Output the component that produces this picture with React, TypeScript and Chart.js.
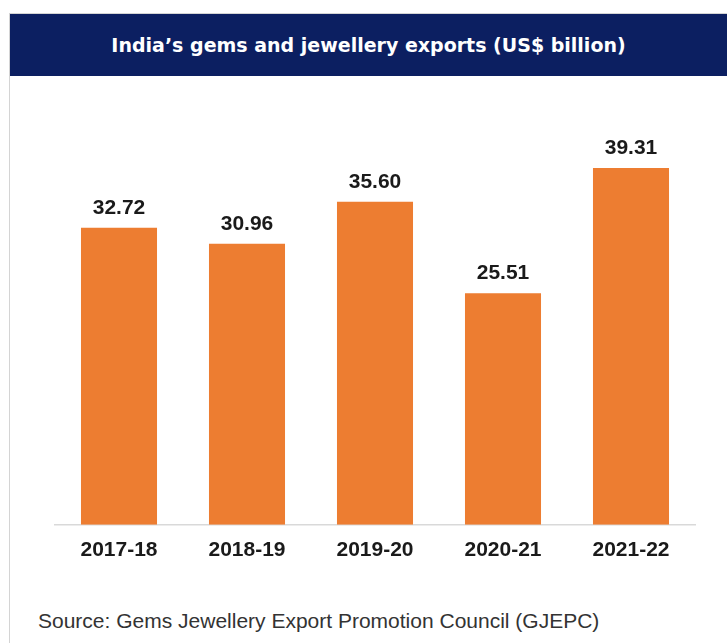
import React, { useEffect, useRef } from "react";
import { Chart, registerables } from "chart.js";

Chart.register(...registerables);

const categories: string[] = ["2017-18", "2018-19", "2019-20", "2020-21", "2021-22"];
const exportValues: number[] = [32.72, 30.96, 35.6, 25.51, 39.31];
const valueLabels: string[] = ["32.72", "30.96", "35.60", "25.51", "39.31"];
const titleText = "India\u2019s gems and jewellery exports (US$ billion)";
const sourceText = "Source: Gems Jewellery Export Promotion Council (GJEPC)";

const FONT = "'Liberation Sans', Arial, sans-serif";
const TITLE_FONT = "'DejaVu Sans', Verdana, sans-serif";

const valueLabelPlugin = {
  id: "valueLabels",
  afterDatasetsDraw(chart: any) {
    const ctx = chart.ctx;
    const meta = chart.getDatasetMeta(0);
    ctx.save();
    ctx.font = `bold 21px ${FONT}`;
    ctx.fillStyle = "#1a1a1a";
    ctx.textAlign = "center";
    ctx.textBaseline = "alphabetic";
    meta.data.forEach((bar: any, i: number) => {
      ctx.fillText(valueLabels[i], bar.x, bar.y - 14);
    });
    ctx.restore();
  },
};

export default function App() {
  const canvasRef = useRef<HTMLCanvasElement | null>(null);

  useEffect(() => {
    if (!canvasRef.current) return;
    const chart = new Chart(canvasRef.current, {
      type: "bar",
      data: {
        labels: categories,
        datasets: [
          {
            data: exportValues,
            backgroundColor: "#ED7D31",
            borderWidth: 0,
            categoryPercentage: 1,
            barPercentage: 0.594,
          },
        ],
      },
      options: {
        animation: false,
        responsive: false,
        maintainAspectRatio: false,
        layout: { padding: { left: 55, right: 32, top: 0, bottom: 4 } },
        plugins: {
          legend: { display: false },
          tooltip: { enabled: false },
          title: { display: false },
        },
        scales: {
          x: {
            grid: { display: false, drawTicks: false },
            border: { display: true, color: "#d9d9d9", width: 1.5 },
            ticks: {
              color: "#1a1a1a",
              font: { family: FONT, size: 21, weight: "bold" },
              padding: 13,
            },
          },
          y: {
            display: false,
            min: 0,
            max: 49,
          },
        },
      },
      plugins: [valueLabelPlugin],
    });
    return () => chart.destroy();
  }, []);

  return (
    <div
      style={{
        position: "fixed",
        left: 0,
        top: 0,
        width: 727,
        height: 643,
        background: "#ffffff",
        overflow: "hidden",
      }}
    >
      <div
        style={{
          position: "absolute",
          left: 9,
          top: 13,
          width: 1,
          height: 630,
          background: "#d4d4d4",
        }}
      />
      <div
        style={{
          position: "absolute",
          left: 10,
          top: 13,
          width: 717,
          height: 1,
          background: "#d4d4d4",
        }}
      />
      <div
        style={{
          position: "absolute",
          left: 10,
          top: 14,
          width: 717,
          height: 62,
          background: "#0c1f61",
          color: "#ffffff",
          fontFamily: TITLE_FONT,
          fontWeight: "bold",
          fontSize: 19,
          lineHeight: "62px",
          textAlign: "center",
          whiteSpace: "nowrap",
        }}
      >
        {titleText}
      </div>
      <canvas
        ref={canvasRef}
        width={727}
        height={500}
        style={{ position: "absolute", left: 0, top: 80, width: 727, height: 500 }}
      />
      <div
        style={{
          position: "absolute",
          left: 38,
          top: 608,
          fontFamily: FONT,
          fontSize: 21,
          lineHeight: "26px",
          color: "#333333",
          whiteSpace: "nowrap",
        }}
      >
        {sourceText}
      </div>
    </div>
  );
}
